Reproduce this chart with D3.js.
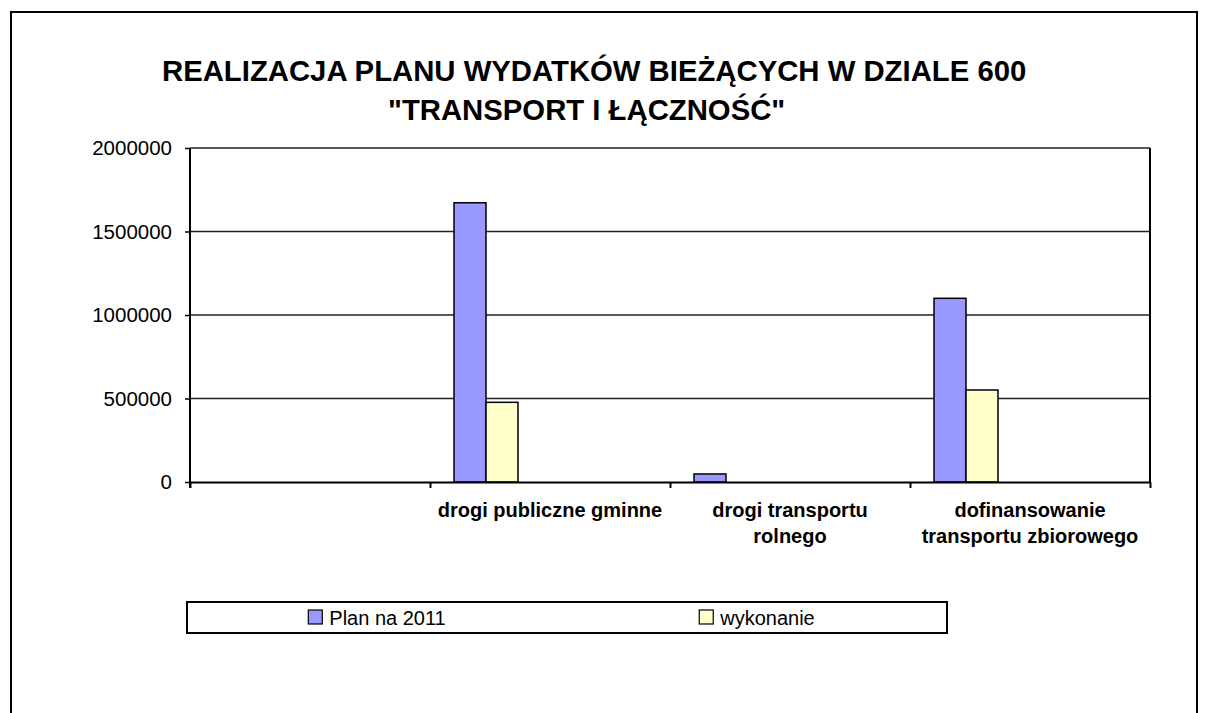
<!DOCTYPE html>
<html>
<head>
<meta charset="utf-8">
<script src="https://cdn.jsdelivr.net/npm/d3@7"></script>
<style>
  body { margin: 0; background: #fff; }
  svg { display: block; font-family: "Liberation Sans", Arial, sans-serif; }
</style>
</head>
<body>
<svg id="chart" width="1208" height="713"></svg>
<script>
// data
var categories = ["", "drogi publiczne gminne", "drogi transportu rolnego", "dofinansowanie transportu zbiorowego"];
var seriesNames = ["Plan na 2011", "wykonanie"];
var planValues = [0, 1672000, 48000, 1100000];
var wykonanieValues = [0, 477000, 0, 551000];
var yTicks = [0, 500000, 1000000, 1500000, 2000000];
var titleLines = ["REALIZACJA PLANU WYDATKÓW BIEŻĄCYCH W DZIALE 600", "\"TRANSPORT I ŁĄCZNOŚĆ\""];

var colors = ["#9999FF", "#FFFFCC"];

var svg = d3.select("#chart"),
    margin = {top: 148, left: 190, right: 58, bottom: 231},
    width = +svg.attr("width") - margin.left - margin.right,
    height = +svg.attr("height") - margin.top - margin.bottom;

// outer frame
svg.append("rect")
    .attr("x", 11).attr("y", 12)
    .attr("width", 1186).attr("height", 720)
    .attr("fill", "none").attr("stroke", "#000").attr("stroke-width", 2);

// title
svg.append("text").attr("x", 162).attr("y", 81)
    .attr("font-size", 29.3).attr("font-weight", "bold").text(titleLines[0]);
svg.append("text").attr("x", 388).attr("y", 120)
    .attr("font-size", 29.3).attr("font-weight", "bold").text(titleLines[1]);

var g = svg.append("g").attr("transform", "translate(" + margin.left + "," + margin.top + ")");

var x0 = d3.scaleBand().domain(categories).range([0, width]);
var bw = x0.bandwidth();
// excel cluster: 6 slots, gap width 150%
var slots = 6, slotW = bw / (slots + 1.5);
var x1 = d3.scaleBand().domain(d3.range(slots)).range([slotW * 0.75, bw - slotW * 0.75]);

var y = d3.scaleLinear().domain([0, 2000000]).range([height, 0]);

// gridlines
g.append("g").selectAll("line")
  .data(yTicks.slice(1))
  .enter().append("line")
    .attr("x1", 0).attr("x2", width)
    .attr("y1", function(d) { return y(d); })
    .attr("y2", function(d) { return y(d); })
    .attr("stroke", "#222").attr("stroke-width", 1.5);

// right edge of plot
g.append("line")
    .attr("x1", width).attr("x2", width).attr("y1", 0).attr("y2", height)
    .attr("stroke", "#000").attr("stroke-width", 2);

// bars
var rows = categories.map(function(c, i) {
  return [{cat: c, s: 0, v: planValues[i]}, {cat: c, s: 1, v: wykonanieValues[i]}];
});

g.append("g").selectAll("g")
  .data(rows)
  .enter().append("g")
    .attr("transform", function(d) { return "translate(" + x0(d[0].cat) + ",0)"; })
  .selectAll("rect")
  .data(function(d) { return d.filter(function(e) { return e.v > 0; }); })
  .enter().append("rect")
    .attr("x", function(d) { return x1(d.s); })
    .attr("width", x1.bandwidth())
    .attr("y", function(d) { return y(d.v); })
    .attr("height", function(d) { return height - y(d.v); })
    .attr("fill", function(d) { return colors[d.s]; })
    .attr("stroke", "#000").attr("stroke-width", 1.5);

// y axis
var yAxis = g.append("g")
    .call(d3.axisLeft(y).tickValues(yTicks).tickFormat(d3.format("d")).tickSize(5).tickPadding(13));
yAxis.select(".domain").attr("stroke-width", 2).attr("d", "M0,0V" + (height + 6));
yAxis.selectAll(".tick line").attr("stroke-width", 1.5);
yAxis.selectAll("text").attr("font-size", 20.5).attr("fill", "#000").attr("font-family", null);

// x axis: ticks on band edges
var xEdge = d3.scaleLinear().domain([0, categories.length]).range([0, width]);
var xAxis = g.append("g")
    .attr("transform", "translate(0," + height + ")")
    .call(d3.axisBottom(xEdge).ticks(categories.length).tickFormat("").tickSize(6).tickSizeOuter(0));
xAxis.select(".domain").attr("stroke-width", 2);
xAxis.selectAll(".tick line").attr("stroke-width", 2);

// category labels, wrapped
var labels = g.append("g").selectAll("text")
  .data(categories)
  .enter().append("text")
    .attr("x", function(d) { return x0(d) + bw / 2; })
    .attr("y", height + 35)
    .attr("text-anchor", "middle")
    .attr("font-size", 20).attr("font-weight", "bold");

labels.each(function(d) {
  var t = d3.select(this), words = d.split(" "), line = [];
  var ts = t.append("tspan").attr("x", t.attr("x")).attr("dy", 0);
  words.forEach(function(w) {
    line.push(w);
    ts.text(line.join(" "));
    if (ts.node().getComputedTextLength() > 230 && line.length > 1) {
      line.pop();
      ts.text(line.join(" "));
      line = [w];
      ts = t.append("tspan").attr("x", t.attr("x")).attr("dy", 26).text(w);
    }
  });
});

// legend
var lx = 187, ly = 602, lw = 760, lh = 31;
svg.append("rect")
    .attr("x", lx).attr("y", ly).attr("width", lw).attr("height", lh)
    .attr("fill", "none").attr("stroke", "#000").attr("stroke-width", 2);

var lscale = d3.scaleBand().domain(seriesNames).range([lx, lx + lw]);

var legend = svg.append("g").selectAll("g")
  .data(seriesNames)
  .enter().append("g");

legend.append("text")
    .attr("y", ly + 23)
    .attr("font-size", 20)
    .text(function(d) { return d; });

legend.each(function(d, i) {
  var gi = d3.select(this);
  var tw = gi.select("text").node().getComputedTextLength();
  var total = 14 + 7 + tw;
  var sx = lscale(d) + (lscale.bandwidth() - total) / 2;
  gi.insert("rect", "text")
    .attr("x", sx).attr("y", ly + 8)
    .attr("width", 14).attr("height", 14)
    .attr("fill", colors[i]).attr("stroke", "#000").attr("stroke-width", 1.2);
  gi.select("text").attr("x", sx + 21);
});
</script>
</body>
</html>
